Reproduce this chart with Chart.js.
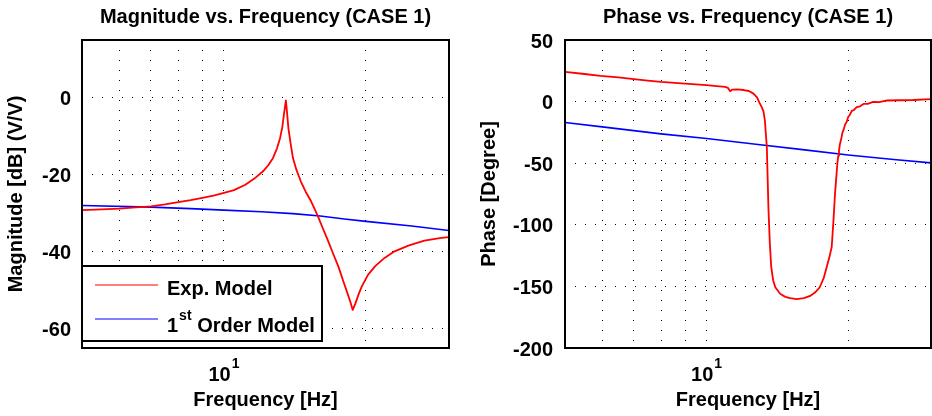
<!DOCTYPE html>
<html>
<head>
<meta charset="utf-8">
<script src="https://cdn.jsdelivr.net/npm/chart.js@4/dist/chart.umd.min.js"></script>
<style>
  html, body { margin: 0; padding: 0; background: #fff; }
  #wrap { position: relative; width: 932px; height: 416px; }
  canvas { position: absolute; top: 0; }
</style>
</head>
<body>
<div id="wrap">
  <canvas id="mag" width="466" height="416" style="left:0"></canvas>
  <canvas id="phase" width="466" height="416" style="left:466px"></canvas>
</div>
<script>
const FONT = '"Liberation Sans", Arial, Helvetica, sans-serif';

// Frequency axis (Hz), logarithmic
const freqMin = 5;
const freqMax = 30;
const freqGrid = [5, 6, 7, 8, 9, 10, 20, 30];
const freqTickBase = '10';
const freqTickExp = '1';
const freqTickValue = 10;

const seriesNames = ['Exp. Model', '1st Order Model'];

// Magnitude (dB) vs frequency
const magMin = -65;
const magMax = 15;
const magTicks = [-60, -40, -20, 0];
const magExpFreq = [5.0, 5.5, 6.0, 6.5, 7.0, 7.5, 8.0, 8.5, 9.0, 9.5, 10.0, 10.5, 11.1, 11.6, 12.1, 12.4, 12.7, 12.95, 13.15, 13.3, 13.4, 13.53, 13.62, 13.7, 13.85, 14.0, 14.25, 14.55, 14.9, 15.3, 15.8, 16.2, 16.6, 17.0, 17.5, 17.9, 18.3, 18.55, 18.75, 19.0, 19.3, 19.6, 20.2, 20.9, 21.9, 23.0, 24.6, 26.6, 28.9, 30.0];
const magExpDb   = [-29.2, -29.0, -28.8, -28.5, -28.2, -27.7, -27.1, -26.6, -26.0, -25.4, -24.7, -24.0, -22.6, -21.0, -19.1, -17.6, -15.7, -13.2, -10.5, -7.5, -4.3, -0.7, -4.5, -8.0, -12.0, -15.6, -18.8, -21.7, -24.4, -26.9, -30.6, -33.9, -37.0, -40.2, -44.0, -47.6, -51.0, -53.2, -55.1, -53.4, -51.0, -49.0, -46.0, -43.8, -41.6, -39.9, -38.4, -37.1, -36.4, -36.2];
const magFirstFreq = [5, 7, 8.5, 10, 12, 14, 16, 18, 20, 25, 30];
const magFirstDb   = [-28.0, -28.4, -28.8, -29.2, -29.6, -30.1, -30.7, -31.5, -32.1, -33.3, -34.5];

// Phase (degree) vs frequency
const phaseMin = -200;
const phaseMax = 50;
const phaseTicks = [-200, -150, -100, -50, 0, 50];
const phaseExpFreq = [5.0, 5.5, 5.95, 6.5, 7.0, 7.5, 8.0, 9.0, 10.0, 10.5, 10.95, 11.1, 11.22, 11.35, 11.6, 12.0, 12.3, 12.58, 12.8, 12.95, 13.1, 13.21, 13.3, 13.43, 13.54, 13.63, 13.72, 13.85, 14.0, 14.33, 14.7, 15.05, 15.55, 16.1, 16.6, 17.0, 17.4, 17.75, 18.0, 18.25, 18.45, 18.6, 18.75, 18.9, 18.97, 19.05, 19.12, 19.2, 19.28, 19.35, 19.45, 19.55, 19.7, 19.85, 20.0, 20.15, 20.35, 20.55, 20.85, 21.2, 21.6, 22.0, 22.6, 23.3, 24.2, 25.7, 27.5, 30.0];
const phaseExpDeg  = [24.1, 22.4, 20.8, 19.6, 18.3, 17.1, 16.0, 14.6, 13.3, 12.6, 11.9, 11.2, 8.4, 9.8, 10.0, 9.4, 8.6, 6.5, 3.5, -0.8, -4.5, -8.0, -15.0, -37.0, -88.0, -115.0, -134.0, -145.0, -150.7, -156.0, -158.5, -159.6, -160.4, -159.5, -157.7, -155.0, -150.7, -143.0, -134.5, -126.0, -118.0, -98.0, -75.0, -58.0, -50.0, -44.0, -40.0, -35.0, -32.0, -29.5, -25.0, -23.0, -18.5, -16.5, -12.5, -11.0, -7.5, -7.0, -4.5, -3.8, -1.8, -1.9, -0.3, -0.4, 0.9, 1.1, 1.3, 2.0];
const phaseFirstFreq = [5, 6, 8, 10, 13, 16, 20, 25, 30];
const phaseFirstDeg  = [-17.0, -20.5, -26.2, -30.0, -35.0, -39.0, -43.4, -47.0, -49.7];

const toPoints = (xs, ys) => xs.map((x, i) => ({ x: x, y: ys[i] }));
const font = (size) => ({ family: FONT, size: size, weight: 'bold' });

// Frame, centred title, "10^1" tick label and the boxed legend
const panelDecor = {
  id: 'panelDecor',
  afterDraw(chart, args, opts) {
    const { ctx, chartArea: a, scales } = chart;
    ctx.save();
    ctx.strokeStyle = '#000';
    ctx.lineWidth = 2;
    ctx.strokeRect(a.left, a.top, a.right - a.left, a.bottom - a.top);

    ctx.fillStyle = '#000';
    ctx.textBaseline = 'alphabetic';
    ctx.textAlign = 'center';
    ctx.font = 'bold 20px ' + FONT;
    ctx.fillText(opts.title, (a.left + a.right) / 2, 23);

    // x tick label with superscript exponent
    const px = scales.x.getPixelForValue(freqTickValue);
    ctx.textAlign = 'left';
    ctx.font = 'bold 20px ' + FONT;
    const wBase = ctx.measureText(freqTickBase).width;
    ctx.font = 'bold 14px ' + FONT;
    const wExp = ctx.measureText(freqTickExp).width;
    const x0 = px - (wBase + wExp + 1) / 2;
    ctx.font = 'bold 20px ' + FONT;
    ctx.fillText(freqTickBase, x0, 381);
    ctx.font = 'bold 14px ' + FONT;
    ctx.fillText(freqTickExp, x0 + wBase + 1, 368);

    if (opts.legend) {
      const bx = a.left, by = 266, bw = 240, bh = 75;
      ctx.fillStyle = '#fff';
      ctx.fillRect(bx, by, bw, bh);
      ctx.strokeStyle = '#000';
      ctx.lineWidth = 2;
      ctx.strokeRect(bx, by, bw, bh);
      const rows = [{ line: 285, base: 295 }, { line: 319, base: 332 }];
      chart.data.datasets.forEach((ds, i) => {
        const r = rows[i];
        ctx.strokeStyle = ds.borderColor;
        ctx.lineWidth = 1.2;
        ctx.beginPath();
        ctx.moveTo(bx + 13, r.line);
        ctx.lineTo(bx + 76, r.line);
        ctx.stroke();
        ctx.fillStyle = '#000';
        let tx = bx + 85;
        const m = /^(\d+)(st|nd|rd|th)(.*)$/.exec(ds.label);
        if (m) {
          ctx.font = 'bold 20px ' + FONT;
          ctx.fillText(m[1], tx, r.base);
          tx += ctx.measureText(m[1]).width + 1;
          ctx.font = 'bold 14px ' + FONT;
          ctx.fillText(m[2], tx, r.base - 12);
          tx += ctx.measureText(m[2]).width;
          ctx.font = 'bold 20px ' + FONT;
          ctx.fillText(m[3], tx, r.base);
        } else {
          ctx.font = 'bold 20px ' + FONT;
          ctx.fillText(ds.label, tx, r.base);
        }
      });
    }
    ctx.restore();
  }
};

function makePanel(canvasId, cfg) {
  return new Chart(document.getElementById(canvasId), {
    type: 'line',
    data: {
      datasets: [
        { label: seriesNames[0], data: cfg.exp, borderColor: '#ff0000', borderWidth: 1.8, pointRadius: 0, tension: 0, borderJoinStyle: 'round' },
        { label: seriesNames[1], data: cfg.first, borderColor: '#0000ff', borderWidth: 1.6, pointRadius: 0, tension: 0 }
      ]
    },
    options: {
      responsive: false,
      animation: false,
      devicePixelRatio: 1,
      layout: { padding: { top: 40, right: cfg.padRight, bottom: 0, left: 0 } },
      plugins: {
        legend: { display: false },
        tooltip: { enabled: false },
        title: { display: false },
        panelDecor: { title: cfg.title, legend: cfg.legend }
      },
      scales: {
        x: {
          type: 'logarithmic',
          min: freqMin,
          max: freqMax,
          afterBuildTicks: (s) => { s.ticks = freqGrid.map(v => ({ value: v })); },
          afterFit: (s) => { s.height = 68; },
          ticks: { display: false },
          grid: { color: '#000', lineWidth: 1, drawTicks: false, borderDash: [1, 9] },
          border: { display: false, dash: [1, 9] },
          title: { display: true, text: 'Frequency [Hz]', font: font(20), color: '#000', padding: { top: 0, bottom: 4 } }
        },
        y: {
          type: 'linear',
          min: cfg.yMin,
          max: cfg.yMax,
          afterBuildTicks: (s) => { s.ticks = cfg.yTicks.map(v => ({ value: v })); },
          afterFit: (s) => { s.width = cfg.yWidth; },
          ticks: { font: font(20), color: '#000', padding: cfg.tickPad, labelOffset: 2 },
          grid: { color: '#000', lineWidth: 1, drawTicks: false, borderDash: [1, 9] },
          border: { display: false, dash: [1, 9] },
          title: { display: true, text: cfg.yTitle, font: font(20), color: '#000', padding: { top: cfg.yTitlePad, bottom: 0 } }
        }
      }
    },
    plugins: [panelDecor]
  });
}

makePanel('mag', {
  exp: toPoints(magExpFreq, magExpDb),
  first: toPoints(magFirstFreq, magFirstDb),
  yMin: magMin, yMax: magMax, yTicks: magTicks,
  yTitle: 'Magnitude [dB] (V/V)',
  title: 'Magnitude vs. Frequency (CASE 1)',
  yWidth: 82, padRight: 17, tickPad: 11, yTitlePad: 4,
  legend: true
});

makePanel('phase', {
  exp: toPoints(phaseExpFreq, phaseExpDeg),
  first: toPoints(phaseFirstFreq, phaseFirstDeg),
  yMin: phaseMin, yMax: phaseMax, yTicks: phaseTicks,
  yTitle: 'Phase [Degree]',
  title: 'Phase vs. Frequency (CASE 1)',
  yWidth: 99, padRight: 1, tickPad: 12, yTitlePad: 11,
  legend: false
});
</script>
</body>
</html>
